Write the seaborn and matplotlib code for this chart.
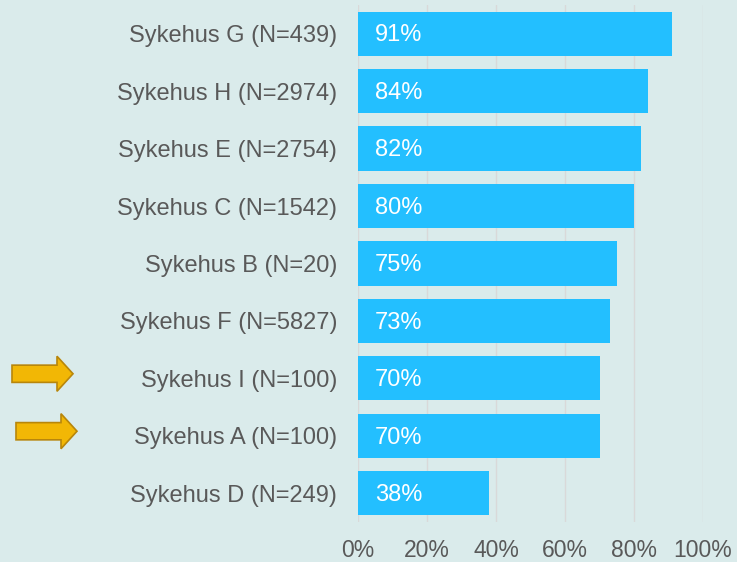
import matplotlib
matplotlib.use("Agg")
import matplotlib.pyplot as plt
from matplotlib.patches import FancyArrow
from matplotlib.transforms import blended_transform_factory
import seaborn as sns
import pandas as pd

# ── data ─────────────────────────────────────────────────────────────────────
hospitals = ["Sykehus G (N=439)", "Sykehus H (N=2974)", "Sykehus E (N=2754)",
             "Sykehus C (N=1542)", "Sykehus B (N=20)", "Sykehus F (N=5827)",
             "Sykehus I (N=100)", "Sykehus A (N=100)", "Sykehus D (N=249)"]
shares = [91, 84, 82, 80, 75, 73, 70, 70, 38]
highlighted = ["Sykehus I (N=100)", "Sykehus A (N=100)"]
x_ticks = [0, 20, 40, 60, 80, 100]

df = pd.DataFrame({"hospital": hospitals, "share": shares})

# ── style ────────────────────────────────────────────────────────────────────
BG    = "#DAEBEB"
BAR   = "#23BFFF"
TEXT  = "#595959"
GRID  = "#D9D9D9"
FS    = 17
sns.set_style("white")
plt.rcParams["font.family"] = ["Liberation Sans", "DejaVu Sans"]

fig = plt.figure(figsize=(7.37, 5.62), dpi=100, facecolor=BG)
ax = fig.add_axes([0.4858, 0.0712, 0.4681, 0.92])
ax.set_facecolor(BG)

sns.barplot(data=df, x="share", y="hospital", color=BAR, saturation=1,
            width=0.77, linewidth=0, ax=ax, zorder=2)

ax.set_xlim(0, 100)
ax.set_ylim(8.5, -0.5)
ax.set_xticks(x_ticks)
ax.set_xticklabels([f"{t}%" for t in x_ticks])
ax.xaxis.grid(True, color=GRID, linewidth=1.0, zorder=0)
ax.set_axisbelow(True)
for s in ax.spines.values():
    s.set_visible(False)
ax.tick_params(axis="x", length=0, pad=12, labelsize=16.5, labelcolor=TEXT)
ax.tick_params(axis="y", length=0, pad=15, labelsize=FS, labelcolor=TEXT)
ax.set_xlabel("")
ax.set_ylabel("")

# value labels inside bars
for i, v in enumerate(shares):
    ax.text(4.9, i + 0.03, f"{v}%", color="white", fontsize=FS,
            va="center", ha="left")

# arrows next to highlighted hospitals
trans = blended_transform_factory(fig.transFigure, ax.transData)
arrow_x = {"Sykehus I (N=100)": 12 / 737, "Sykehus A (N=100)": 16 / 737}
for name in highlighted:
    i = hospitals.index(name)
    arr = FancyArrow(arrow_x[name], i - 0.08, 61 / 737, 0, width=0.30,
                     head_width=0.61, head_length=16 / 737,
                     length_includes_head=True, transform=trans,
                     facecolor="#F2B705", edgecolor="#B8860B", linewidth=1.2,
                     clip_on=False)
    fig.add_artist(arr)

fig.savefig("out.png", dpi=100, facecolor=BG)
